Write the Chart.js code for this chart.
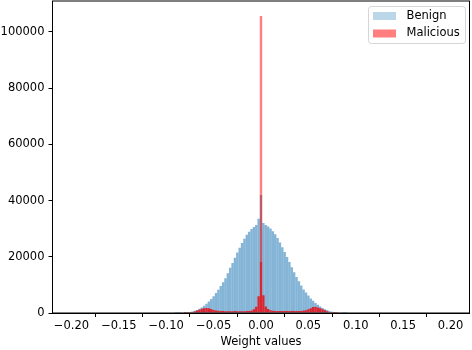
<!DOCTYPE html>
<html>
<head>
<meta charset="utf-8">
<script src="https://cdn.jsdelivr.net/npm/chart.js@4.4.1/dist/chart.umd.min.js"></script>
<style>
  html, body { margin: 0; padding: 0; background: #fff; }
  canvas { display: block; }
</style>
</head>
<body>
<canvas id="histChart" width="472" height="350"></canvas>
<script>
// bin centres (width 0.0025)
const binCenters = [
  -0.09, -0.0875, -0.085, -0.0825, -0.08, -0.0775, -0.075, -0.0725, -0.07, -0.0675,
  -0.065, -0.0625, -0.06, -0.0575, -0.055, -0.0525, -0.05, -0.0475, -0.045, -0.0425,
  -0.04, -0.0375, -0.035, -0.0325, -0.03, -0.0275, -0.025, -0.0225, -0.02, -0.0175,
  -0.015, -0.0125, -0.01, -0.0075, -0.005, -0.0025, 0,
  0.0025, 0.005, 0.0075, 0.01, 0.0125, 0.015, 0.0175, 0.02, 0.0225, 0.025,
  0.0275, 0.03, 0.0325, 0.035, 0.0375, 0.04, 0.0425, 0.045, 0.0475, 0.05,
  0.0525, 0.055, 0.0575, 0.06, 0.0625, 0.065, 0.0675, 0.07, 0.0725, 0.075,
  0.0775, 0.08, 0.0825, 0.085, 0.0875, 0.09
];

const benignCounts = [
  5, 15, 30, 60, 110, 200, 330, 520, 780, 1100,
  1500, 2000, 2600, 3300, 4100, 5000, 6000, 7100, 8300, 9600,
  10900, 12400, 14100, 16100, 17800, 19700, 21500, 23200, 24900, 26400,
  27800, 28900, 29900, 30600, 31300, 33500, 42000,
  32000, 31300, 30800, 30100, 29100, 28000, 26700, 25100, 23400, 21700,
  19900, 18100, 16300, 14500, 12800, 11300, 9800, 8400, 7300, 6200,
  5200, 4400, 3600, 2900, 2300, 1800, 1300, 950, 650, 420,
  260, 150, 85, 45, 25, 10
];

const maliciousCounts = [
  0, 0, 0, 0, 5, 20, 80, 250, 500, 850,
  1200, 1500, 1700, 1800, 1700, 1400, 1100, 900, 800, 700,
  680, 650, 660, 640, 650, 670, 650, 640, 660, 650,
  680, 750, 900, 1300, 2200, 6000, 105700,
  6300, 2300, 1400, 950, 800, 720, 700, 690, 710, 700,
  720, 700, 690, 710, 720, 700, 750, 850, 1000, 1300,
  1700, 2100, 2200, 2000, 1650, 1300, 950, 600, 300, 120,
  40, 10, 0, 0, 0, 0
];

const xTickValues = [-0.2, -0.15, -0.1, -0.05, 0, 0.05, 0.1, 0.15, 0.2];
const yTickValues = [0, 20000, 40000, 60000, 80000, 100000];
const seriesNames = ['Benign', 'Malicious'];

const benignFill = 'rgba(31, 119, 180, 0.55)';
const benignPatch = 'rgba(31, 119, 180, 0.3)';
const redLight = 'rgba(255, 0, 0, 0.5)';
const redDark = 'rgba(228, 22, 32, 0.9)';
const FONT = 'DejaVu Sans';
const FONT_SIZE = 11.5;

Chart.defaults.font.family = FONT;
Chart.defaults.font.size = FONT_SIZE;
Chart.defaults.color = '#000';

// red bars look denser near the base in the original
function maliciousColor(c) {
  const chart = c.chart;
  const area = chart.chartArea;
  if (!area) return redLight;
  const y = chart.scales.y;
  const y0 = y.getPixelForValue(0);
  const y1 = y.getPixelForValue(18000);
  const g = chart.ctx.createLinearGradient(0, y0, 0, area.top);
  const s = (y0 - y1) / (y0 - area.top);
  g.addColorStop(0, redDark);
  g.addColorStop(s, redDark);
  g.addColorStop(s, redLight);
  g.addColorStop(1, redLight);
  return g;
}

const framePlugin = {
  id: 'frame',
  afterDatasetsDraw(chart) {
    const { ctx, chartArea: a } = chart;
    ctx.save();
    ctx.strokeStyle = '#000';
    ctx.lineWidth = 1;
    ctx.strokeRect(a.left, a.top, a.right - a.left, a.bottom - a.top);
    ctx.restore();
  }
};

const legendPlugin = {
  id: 'boxLegend',
  afterDraw(chart) {
    const ctx = chart.ctx;
    const x = 368.5, y = 6.5, w = 97, h = 37, r = 3;
    ctx.save();
    ctx.beginPath();
    ctx.moveTo(x + r, y);
    ctx.arcTo(x + w, y, x + w, y + h, r);
    ctx.arcTo(x + w, y + h, x, y + h, r);
    ctx.arcTo(x, y + h, x, y, r);
    ctx.arcTo(x, y, x + w, y, r);
    ctx.closePath();
    ctx.fillStyle = 'rgba(255,255,255,0.8)';
    ctx.fill();
    ctx.strokeStyle = 'rgba(204,204,204,0.8)';
    ctx.lineWidth = 1;
    ctx.stroke();

    ctx.fillStyle = benignPatch;
    ctx.fillRect(373, 12, 23, 8);
    ctx.fillStyle = redLight;
    ctx.fillRect(373, 29.5, 23, 8);

    ctx.fillStyle = '#000';
    ctx.font = FONT_SIZE + 'px "' + FONT + '"';
    ctx.textBaseline = 'middle';
    ctx.fillText(seriesNames[0], 406.5, 16);
    ctx.fillText(seriesNames[1], 406.5, 33.5);
    ctx.restore();
  }
};

const ctx = document.getElementById('histChart').getContext('2d');

new Chart(ctx, {
  type: 'bar',
  data: {
    datasets: [{
      label: seriesNames[0],
      data: benignCounts.map((v, i) => ({ x: binCenters[i], y: v })),
      backgroundColor: benignFill,
      borderWidth: 0,
      inflateAmount: 0,
      order: 2
    }, {
      label: seriesNames[1],
      data: maliciousCounts.map((v, i) => ({ x: binCenters[i], y: v })),
      backgroundColor: maliciousColor,
      borderWidth: 0,
      inflateAmount: 0,
      order: 1
    }]
  },
  options: {
    responsive: false,
    animation: false,
    events: [],
    datasets: { bar: { grouped: false, barPercentage: 1, categoryPercentage: 1 } },
    layout: { padding: { left: 0, right: 2.5, top: 1, bottom: 0 } },
    plugins: { legend: { display: false }, tooltip: { enabled: false } },
    scales: {
      x: {
        type: 'linear',
        min: -0.22,
        max: 0.22,
        offset: false,
        afterFit: (s) => {
          s.height = 37;
          s.paddingLeft = 0;
          s.paddingRight = 0;
        },
        afterBuildTicks: (s) => { s.ticks = xTickValues.map(v => ({ value: v })); },
        ticks: {
          autoSkip: false,
          maxRotation: 0,
          padding: 2,
          callback: (v) => Number(v).toFixed(2).replace('-', '\u2212')
        },
        grid: { drawOnChartArea: false, drawTicks: true, tickLength: 4, color: '#000' },
        border: { display: true, color: '#000' },
        title: { display: true, text: 'Weight values', padding: { top: 0, bottom: 1 } }
      },
      y: {
        min: 0,
        max: 111000,
        afterFit: (s) => {
          s.width = 52.5;
          s.paddingTop = 0;
          s.paddingBottom = 0;
        },
        afterBuildTicks: (s) => { s.ticks = yTickValues.map(v => ({ value: v })); },
        ticks: { autoSkip: false, padding: 4, callback: (v) => String(v) },
        grid: { drawOnChartArea: false, drawTicks: true, tickLength: 4, color: '#000' },
        border: { display: true, color: '#000' }
      }
    }
  },
  plugins: [framePlugin, legendPlugin]
});
</script>
</body>
</html>
